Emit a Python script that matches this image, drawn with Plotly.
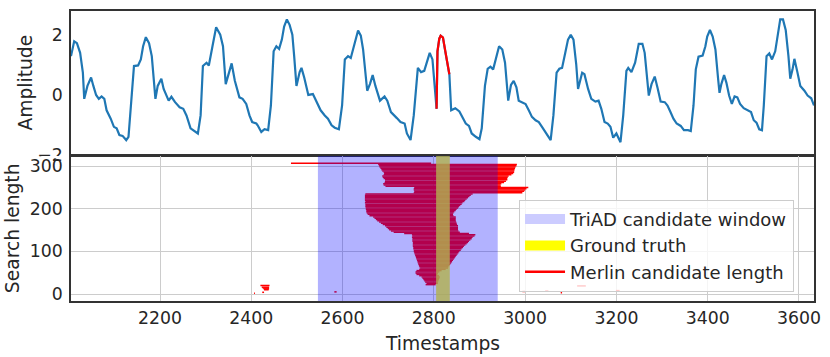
import plotly.graph_objects as go
from plotly.subplots import make_subplots

# time series (top panel)
timestamps = [
    2005, 2012, 2018, 2025, 2031, 2034, 2041, 2049, 2054, 2060, 2066, 2072, 2078, 2083, 2092,
    2099, 2105, 2111, 2118, 2126, 2131, 2136, 2143, 2152, 2158, 2163, 2169, 2176, 2182, 2190,
    2195, 2203, 2208, 2219, 2225, 2233, 2243, 2251, 2258, 2267, 2275, 2283, 2289, 2294, 2302,
    2307, 2315, 2323, 2332, 2338, 2344, 2350, 2357, 2364, 2374, 2381, 2389, 2396, 2402, 2411,
    2414, 2422, 2429, 2437, 2443, 2449, 2455, 2461, 2467, 2472, 2478, 2484, 2490, 2494, 2499,
    2506, 2510, 2516, 2525, 2535, 2542, 2552, 2561, 2568, 2576, 2583, 2592, 2599, 2605, 2612,
    2618, 2625, 2634, 2640, 2645, 2654, 2660, 2666, 2672, 2682, 2692, 2698, 2706, 2719, 2727,
    2736, 2741, 2749, 2756, 2765, 2772, 2779, 2785, 2791, 2797, 2802, 2806, 2808, 2812, 2815,
    2820, 2825, 2831, 2834, 2838, 2847, 2856, 2863, 2870, 2877, 2883, 2892, 2900, 2905, 2912,
    2918, 2924, 2930, 2935, 2943, 2950, 2956, 2963, 2969, 2975, 2981, 2986, 2994, 3001, 3008,
    3015, 3023, 3030, 3037, 3045, 3052, 3056, 3062, 3069, 3075, 3081, 3088, 3094, 3100, 3106,
    3112, 3116, 3125, 3130, 3138, 3145, 3154, 3161, 3167, 3174, 3181, 3187, 3193, 3200, 3209,
    3215, 3222, 3226, 3233, 3241, 3249, 3257, 3262, 3267, 3271, 3277, 3284, 3290, 3297, 3306,
    3312, 3318, 3325, 3332, 3341, 3348, 3357, 3363, 3369, 3374, 3380, 3389, 3395, 3399, 3405,
    3411, 3417, 3423, 3426, 3430, 3436, 3441, 3447, 3453, 3459, 3465, 3471, 3479, 3488, 3495,
    3501, 3507, 3513, 3519, 3523, 3529, 3535, 3541, 3548, 3554, 3559, 3565, 3571, 3577, 3581,
    3586, 3590, 3596, 3603, 3612, 3619, 3627, 3633,
]
amplitude = [
    1.29, 1.78, 1.72, 1.40, 0.74, -0.13, 0.30, 0.58, 0.30, 0.00, -0.13, -0.05, -0.13, -0.51, -0.79,
    -1.06, -1.11, -1.33, -1.36, -1.50, -1.39, -0.35, 0.96, 0.98, 1.18, 1.62, 1.92, 1.72, 1.29, -0.13,
    0.30, 0.54, 0.20, -0.19, -0.06, -0.24, -0.41, -0.46, -0.68, -1.11, -1.20, -1.28, -0.68, 0.96, 1.07,
    0.98, 1.62, 2.25, 2.00, 1.62, 0.36, 0.69, 1.05, 0.47, -0.08, -0.13, -0.30, -0.68, -0.90, -0.95,
    -1.01, -1.23, -1.14, -1.17, -0.35, 1.45, 1.62, 1.53, 1.84, 2.27, 2.51, 2.33, 2.00, 1.29, 0.30,
    0.76, 0.90, 0.58, 0.00, 0.03, -0.19, -0.51, -0.68, -0.79, -1.01, -1.09, -1.14, -0.35, 1.18, 1.29,
    1.23, 1.67, 2.14, 1.97, 1.51, 0.14, 0.36, 0.66, 0.30, -0.19, -0.05, -0.19, -0.57, -0.77, -0.90,
    -0.95, -1.28, -1.50, -0.68, 0.90, 0.76, 0.80, 1.12, 1.40, 1.18, 0.41, -0.46, 1.45, 1.87, 1.97,
    1.91, 1.45, 1.02, 0.69, -0.51, -0.44, -0.55, -0.73, -0.95, -1.03, -1.28, -1.39, -1.47, -1.11, 0.30,
    0.87, 0.94, 0.85, 1.18, 1.62, 1.51, 1.07, -0.19, 0.33, 0.47, 0.25, -0.19, -0.24, -0.30, -0.51,
    -0.73, -0.84, -0.90, -1.06, -1.23, -1.39, -1.50, -0.68, 0.74, 0.87, 0.90, 1.40, 1.84, 2.00, 1.84,
    1.02, 0.20, 0.74, 0.69, 0.20, -0.13, -0.22, -0.19, -0.46, -0.90, -0.95, -1.06, -1.42, -1.28, -1.57,
    -0.68, 0.80, 0.90, 0.76, 1.07, 1.70, 1.70, 1.40, 0.52, -0.02, 0.36, 0.61, 0.25, -0.22, -0.24,
    -0.35, -0.55, -0.79, -0.95, -1.03, -1.17, -1.17, -1.20, -0.35, 0.85, 1.27, 1.31, 1.62, 1.94, 2.16,
    1.94, 1.51, 0.52, 0.07, 0.36, 0.66, 0.41, -0.02, -0.30, -0.05, -0.08, -0.30, -0.44, -0.51, -0.57,
    -0.84, -0.92, -1.14, -1.17, -0.35, 1.29, 1.38, 1.18, 1.45, 2.05, 2.51, 2.51, 2.16, 1.29, 0.54,
    0.85, 1.20, 0.80, 0.30, 0.14, -0.02, -0.11, -0.35,
]

ground_truth = (2805, 2835)
triad_window = (2546, 2940)

# Merlin: discord start for every search length
merlin_lengths = [
    2, 3, 4, 5, 6, 7, 8, 10, 12, 14, 16, 19, 20,
    22, 25, 28, 31, 34, 37, 40, 43, 46, 49, 52, 55, 58, 61, 64, 67, 70, 73, 76, 79,
    82, 85, 88, 91, 94, 97, 100, 103, 106, 109, 112, 115, 118, 121, 124, 127, 130, 133, 136,
    139, 142, 145, 148, 151, 154, 157, 160, 163, 166, 169, 172, 175, 178, 181, 184, 187, 190,
    193, 196, 199, 202, 205, 208, 211, 214, 217, 220, 223, 226, 229, 232, 235, 238, 241, 244,
    247, 250, 253, 256, 259, 262, 265, 268, 271, 274, 277, 280, 283, 286, 289, 292, 295, 298,
    301, 304, 307,
]
merlin_starts = [
    2406, 3078, 2424, 2582, 2994, 3044, 3199, 2428, 2427, 2425, 2423, 3114, 2420,
    2782, 2784, 2781, 2779, 2777, 2775, 2773, 2768, 2762, 2760, 2760, 2762, 2768, 2770, 2768,
    2767, 2766, 2765, 2764, 2763,
    2762, 2761, 2760, 2759, 2758, 2757, 2756, 2756, 2755, 2755, 2754, 2754, 2754, 2754, 2753,
    2753, 2753, 2752, 2753,
    2752, 2735, 2712, 2706, 2702, 2699, 2696, 2693, 2688, 2684, 2680, 2676, 2673, 2670, 2667,
    2659, 2655, 2653,
    2652, 2652, 2651, 2651, 2650, 2650, 2650, 2649, 2650, 2649, 2649, 2649, 2649, 2649, 2650,
    2756, 2757, 2756,
    2756, 2757, 2694, 2690, 2689, 2692, 2693, 2693, 2690, 2688, 2687, 2690, 2691, 2690, 2687,
    2685, 2683, 2681,
    2680, 2678, 2487,
]

x_ticks = [2200, 2400, 2600, 2800, 3000, 3200, 3400, 3600]
amp_ticks = [-2, 0, 2]
len_ticks = [0, 100, 200, 300]

FONT = "DejaVu Sans, Verdana, sans-serif"
TEXT = "#262626"
SPINE = "#333333"
GRID = "#cccccc"

fig = make_subplots(rows=2, cols=1, shared_xaxes=True, vertical_spacing=0)

fig.add_trace(
    go.Scatter(x=timestamps, y=amplitude, mode="lines",
               line=dict(color="#1f77b4", width=2.2), showlegend=False),
    row=1, col=1,
)
g0, g1 = ground_truth
seg = [(t, v) for t, v in zip(timestamps, amplitude) if g0 <= t <= g1]
fig.add_trace(
    go.Scatter(x=[t for t, _ in seg], y=[v for _, v in seg], mode="lines",
               line=dict(color="red", width=2.2), showlegend=False),
    row=1, col=1,
)

# one trace, segments separated by None
mx, my = [], []
for L, p in zip(merlin_lengths, merlin_starts):
    mx += [p, p + L, None]
    my += [L, L, None]
fig.add_trace(
    go.Scatter(x=mx, y=my, mode="lines", line=dict(color="red", width=1.5),
               showlegend=False, hoverinfo="skip"),
    row=2, col=1,
)

# legend-only entries
fig.add_trace(go.Scatter(x=[None], y=[None], mode="lines", name="TriAD candidate window",
                         line=dict(color="#ccccff", width=11)), row=2, col=1)
fig.add_trace(go.Scatter(x=[None], y=[None], mode="lines", name="Ground truth",
                         line=dict(color="#ffff00", width=11)), row=2, col=1)
fig.add_trace(go.Scatter(x=[None], y=[None], mode="lines", name="Merlin candidate length",
                         line=dict(color="red", width=2.5)), row=2, col=1)

fig.add_shape(type="rect", xref="x2", yref="y2 domain", x0=g0, x1=g1, y0=0, y1=1,
              fillcolor="yellow", opacity=0.8, line_width=0, layer="above")
w0, w1 = triad_window
fig.add_shape(type="rect", xref="x2", yref="y2 domain", x0=w0, x1=w1, y0=0, y1=1,
              fillcolor="blue", opacity=0.3, line_width=0, layer="above")
# lower panel hides the bottom half of the "-2" label, as in the original
fig.add_shape(type="rect", xref="paper", yref="paper", x0=-0.04, x1=-0.003,
              y0=0.492, y1=0.5, fillcolor="white", line_width=0, layer="above")

axis_common = dict(showline=True, mirror=True, linecolor=SPINE, linewidth=1.5,
                   ticks="", zeroline=False,
                   tickfont=dict(family=FONT, size=17.3, color=TEXT))

fig.update_xaxes(range=[2005, 3633], **axis_common)
fig.update_xaxes(showgrid=False, row=1, col=1)
fig.update_xaxes(showgrid=True, gridcolor=GRID, gridwidth=1.2, tickvals=x_ticks,
                 ticklabelstandoff=0, row=2, col=1)
fig.update_yaxes(**axis_common)
fig.update_yaxes(range=[-2.0, 2.79], tickvals=amp_ticks, showgrid=False,
                 domain=[0.503, 1.0], ticklabelstandoff=3, row=1, col=1)
fig.update_yaxes(range=[-16.4, 324], tickvals=len_ticks, showgrid=True, gridcolor=GRID,
                 gridwidth=1.2, domain=[0.0, 0.5], ticklabelstandoff=3, row=2, col=1)

title_font = dict(family=FONT, size=18.7, color=TEXT)
title_kw = dict(xref="paper", yref="paper", showarrow=False, font=title_font,
                xanchor="center", yanchor="middle")
fig.add_annotation(text="Amplitude", x=-0.0612, y=0.7516, textangle=-90, **title_kw)
fig.add_annotation(text="Search length", x=-0.0785, y=0.25, textangle=-90, **title_kw)
fig.add_annotation(text="Timestamps", x=0.5, y=-0.145, **title_kw)

fig.update_layout(
    width=830, height=357,
    margin=dict(l=71, r=12, t=9, b=56),
    paper_bgcolor="white", plot_bgcolor="white",
    font=dict(family=FONT, color=TEXT),
    legend=dict(x=0.603, y=0.349, xanchor="left", yanchor="top",
                bgcolor="rgba(255,255,255,0.8)", bordercolor=GRID, borderwidth=1,
                font=dict(family=FONT, size=18, color=TEXT), itemwidth=40,
                tracegroupgap=0),
)

fig.write_html("out.html", config={"displayModeBar": False},
               post_script="document.body.style.margin='0';")
